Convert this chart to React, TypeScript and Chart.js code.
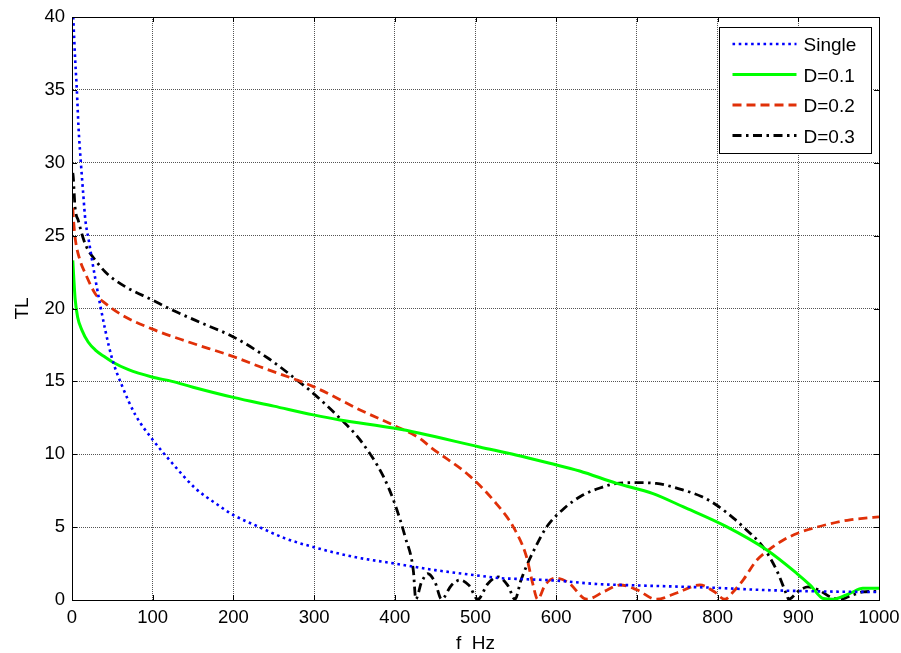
import React, { useEffect, useRef } from "react";
import { Chart, registerables } from "chart.js";

Chart.register(...registerables);

// ---- data ----
const xTickValues = [0, 100, 200, 300, 400, 500, 600, 700, 800, 900, 1000];
const yTickValues = [0, 5, 10, 15, 20, 25, 30, 35, 40];

const singleF = [1.5, 4, 6, 8, 11, 14, 16.5, 20.7, 29, 41.3, 50, 62, 78.5, 100, 124, 153, 178, 200, 231, 264, 300, 350, 400, 450, 500, 530, 550, 600, 650, 700, 750, 800, 850, 900, 950, 1000];
const singleTL = [40, 37, 35, 32.5, 30, 27.8, 26.1, 24.7, 22.0, 18.5, 16.5, 14.7, 12.7, 11.0, 9.4, 7.66, 6.63, 5.83, 5.03, 4.23, 3.62, 2.95, 2.5, 2.05, 1.7, 1.5, 1.45, 1.33, 1.1, 1.0, 0.92, 0.83, 0.7, 0.62, 0.57, 0.55];

const d1F = [1, 2, 4, 7, 12.4, 20, 29, 40, 49.6, 70, 99, 124, 150, 200, 250, 299, 332, 400, 431, 505, 550, 592, 629, 675, 720, 757, 811, 861, 898, 915, 931, 943, 964, 980, 1000];
const d1TL = [23.3, 22.3, 20.6, 19.4, 18.5, 17.7, 17.15, 16.7, 16.35, 15.8, 15.3, 15.0, 14.6, 13.9, 13.3, 12.7, 12.35, 11.78, 11.44, 10.5, 9.95, 9.38, 8.85, 8.0, 7.3, 6.4, 5.03, 3.43, 1.83, 1.0, 0.1, 0.05, 0.46, 0.8, 0.8];

const d2F = [1, 2, 4, 10, 16.5, 29, 41.3, 62, 99, 144.6, 200, 233, 299, 357, 398, 431, 444, 493, 526, 547, 563, 571, 577, 586, 598, 615, 638, 660, 679, 700, 724, 750, 778, 795, 809, 820, 832, 848, 865, 881, 900, 923, 945, 964, 980, 1000];
const d2TL = [26.9, 26.0, 24.8, 23.3, 22.4, 21.0, 20.35, 19.55, 18.6, 17.7, 16.7, 16.0, 14.64, 13.04, 12.0, 11.09, 10.5, 8.5, 6.6, 5.0, 3.0, 1.1, 0.05, 1.0, 1.5, 1.2, 0.05, 0.6, 1.03, 0.7, 0.05, 0.5, 1.03, 0.6, 0.05, 0.6, 1.4, 2.7, 3.5, 4.1, 4.6, 5.0, 5.3, 5.5, 5.6, 5.7];

const d3F = [1, 1.6, 3.7, 8, 14, 20, 26.4, 41.3, 66, 99, 124, 165, 200, 244, 274, 299, 332, 357, 386, 400, 413, 423, 426, 433, 441, 450, 458, 470, 481, 492, 503, 515, 528, 540, 549, 556, 563, 575, 588, 610, 633, 655, 675, 700, 724, 757, 780, 799, 820, 832, 856, 873, 886, 888, 900, 912, 925, 940, 952, 965, 980, 1000];
const d3TL = [29.3, 29.0, 27.0, 26.0, 24.8, 24.0, 23.5, 22.5, 21.5, 20.6, 19.9, 18.9, 18.05, 16.55, 15.3, 14.18, 12.47, 10.98, 8.46, 6.6, 4.3, 2.0, 0.05, 1.2, 1.8, 1.2, 0.05, 1.0, 1.37, 1.0, 0.05, 1.1, 1.58, 1.0, 0.05, 1.3, 2.3, 3.7, 5.0, 6.3, 7.2, 7.7, 8.0, 8.05, 8.0, 7.55, 7.1, 6.5, 5.6, 5.0, 3.66, 2.06, 0.3, 0.05, 0.6, 0.9, 0.7, 0.2, 0.05, 0.3, 0.55, 0.6];

const seriesLabels = ["Single", "D=0.1", "D=0.2", "D=0.3"];

const FONT = "'Liberation Sans', Arial, sans-serif";

function toPoints(xs: number[], ys: number[]) {
  return xs.map((x, i) => ({ x, y: ys[i] }));
}

const framePlugin = {
  id: "frame",
  afterDraw(chart: any) {
    const { ctx, chartArea } = chart;
    const { left, right, top, bottom } = chartArea;
    const xs = chart.scales.x;
    const ys = chart.scales.y;
    ctx.save();
    ctx.strokeStyle = "#000";
    ctx.lineWidth = 1;
    ctx.setLineDash([]);
    ctx.strokeRect(Math.round(left) + 0.5, Math.round(top) + 0.5, Math.round(right - left), Math.round(bottom - top));
    const tl = 5;
    ctx.beginPath();
    xTickValues.forEach((v) => {
      const px = Math.round(xs.getPixelForValue(v)) + 0.5;
      ctx.moveTo(px, bottom);
      ctx.lineTo(px, bottom - tl);
      ctx.moveTo(px, top);
      ctx.lineTo(px, top + tl);
    });
    yTickValues.forEach((v) => {
      const py = Math.round(ys.getPixelForValue(v)) + 0.5;
      ctx.moveTo(left, py);
      ctx.lineTo(left + tl, py);
      ctx.moveTo(right, py);
      ctx.lineTo(right - tl, py);
    });
    ctx.stroke();

    // legend box
    const boxW = 152;
    const boxH = 126;
    const bx = Math.round(right - 8 - boxW) + 0.5;
    const by = Math.round(top + 10) + 0.5;
    ctx.fillStyle = "#fff";
    ctx.fillRect(bx, by, boxW, boxH);
    ctx.strokeStyle = "#000";
    ctx.lineWidth = 1;
    ctx.strokeRect(bx, by, boxW, boxH);
    ctx.font = `19px ${FONT}`;
    ctx.textBaseline = "middle";
    ctx.textAlign = "left";
    chart.data.datasets.forEach((ds: any, i: number) => {
      const cy = by + 16.5 + i * 30.5;
      ctx.save();
      ctx.strokeStyle = ds.borderColor;
      ctx.lineWidth = ds.borderWidth;
      ctx.setLineDash(ds.borderDash || []);
      ctx.beginPath();
      ctx.moveTo(bx + 13, cy);
      ctx.lineTo(bx + 77, cy);
      ctx.stroke();
      ctx.restore();
      ctx.fillStyle = "#000";
      ctx.fillText(ds.label, bx + 84, cy + 2);
    });
    ctx.restore();
  },
};

export default function App() {
  const canvasRef = useRef<HTMLCanvasElement | null>(null);

  useEffect(() => {
    if (!canvasRef.current) return;
    const chart = new Chart(canvasRef.current, {
      type: "line",
      data: {
        datasets: [
          {
            label: seriesLabels[0],
            data: toPoints(singleF, singleTL),
            borderColor: "#0000ff",
            borderWidth: 2.6,
            borderDash: [2.6, 3.6],
            pointRadius: 0,
            cubicInterpolationMode: "monotone",
          },
          {
            label: seriesLabels[1],
            data: toPoints(d1F, d1TL),
            borderColor: "#00ff00",
            borderWidth: 3,
            pointRadius: 0,
            cubicInterpolationMode: "monotone",
          },
          {
            label: seriesLabels[2],
            data: toPoints(d2F, d2TL),
            borderColor: "#e03008",
            borderWidth: 2.8,
            borderDash: [9, 5],
            pointRadius: 0,
            cubicInterpolationMode: "monotone",
          },
          {
            label: seriesLabels[3],
            data: toPoints(d3F, d3TL),
            borderColor: "#000000",
            borderWidth: 2.8,
            borderDash: [9, 4.5, 2.5, 4.5],
            pointRadius: 0,
            cubicInterpolationMode: "monotone",
          },
        ] as any,
      },
      options: {
        animation: false,
        responsive: false,
        devicePixelRatio: 1,
        layout: { padding: { top: 17, right: 22, left: 0, bottom: 0 } },
        plugins: { legend: { display: false }, tooltip: { enabled: false } },
        scales: {
          x: {
            type: "linear",
            min: 0,
            max: 1000,
            afterBuildTicks: (s: any) => {
              s.ticks = xTickValues.map((v) => ({ value: v }));
            },
            afterFit: (s: any) => {
              s.height = 53;
              s.paddingLeft = 0;
              s.paddingRight = 0;
            },
            ticks: {
              color: "#000",
              font: { family: FONT, size: 18.5 },
              padding: 7,
              maxRotation: 0,
              callback: (v: any) => String(v),
            },
            grid: { color: "#555", lineWidth: 1, drawTicks: false },
            border: { display: true, color: "#000", width: 1, dash: [1, 1] },
            title: {
              display: true,
              text: "f  Hz",
              color: "#000",
              font: { family: FONT, size: 19, lineHeight: 0.95 },
              padding: { top: 0, bottom: 0 },
            },
          },
          y: {
            type: "linear",
            min: 0,
            max: 40,
            afterBuildTicks: (s: any) => {
              s.ticks = yTickValues.map((v) => ({ value: v }));
            },
            afterFit: (s: any) => {
              s.width = 72;
              s.paddingTop = 0;
              s.paddingBottom = 0;
            },
            ticks: {
              color: "#000",
              font: { family: FONT, size: 18.5 },
              padding: 7,
              callback: (v: any) => String(v),
            },
            grid: { color: "#555", lineWidth: 1, drawTicks: false },
            border: { display: true, color: "#000", width: 1, dash: [1, 1] },
            title: {
              display: true,
              text: "TL",
              color: "#000",
              font: { family: FONT, size: 19 },
              padding: { top: 11, bottom: 0 },
            },
          },
        },
      },
      plugins: [framePlugin],
    } as any);
    return () => chart.destroy();
  }, []);

  return (
    <div style={{ position: "fixed", left: 0, top: 0, width: 901, height: 653, background: "#fff" }}>
      <canvas ref={canvasRef} width={901} height={653} style={{ display: "block", width: 901, height: 653 }} />
    </div>
  );
}
